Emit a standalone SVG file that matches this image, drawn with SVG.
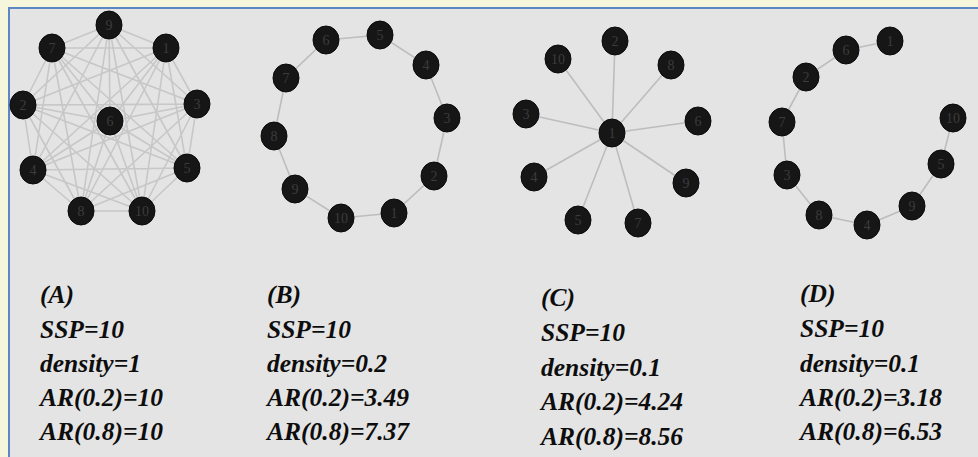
<svg xmlns="http://www.w3.org/2000/svg" width="978" height="457" viewBox="0 0 978 457">
<defs>
<style>
.bg{fill:#f6f6dc}
.panel{fill:#e4e4e4}
.frame{stroke:#5b87c5;stroke-width:2;fill:none}
.e{stroke:#bdbdbd;stroke-width:1.6;fill:none}
.ea{stroke:#c2c2c2;stroke-width:1.6;fill:none;opacity:0.85}
.n ellipse{fill:#161616;stroke:#0a0a0a;stroke-width:1}
.n text{font-family:"Liberation Serif",serif;font-size:14px;fill:#3c3c3c;text-anchor:middle;dominant-baseline:central}
.cap{font-family:"Liberation Serif",serif;font-size:25.5px;font-weight:bold;font-style:italic;fill:#0d0d0d}
</style>
</defs>
<rect class="bg" x="0" y="0" width="978" height="457"/>
<rect class="panel" x="8" y="7" width="970" height="450"/>
<path class="frame" d="M9 457 V8 H978"/>

<g id="connectors">
<g id="edges-A">
<path class="ea" d="M109 25 L166 48 M109 25 L52 48 M109 25 L23 105 M109 25 L197 104 M109 25 L110 121 M109 25 L33 170 M109 25 L187 168 M109 25 L81 211 M109 25 L142 211
M166 48 L52 48 M166 48 L23 105 M166 48 L197 104 M166 48 L110 121 M166 48 L33 170 M166 48 L187 168 M166 48 L81 211 M166 48 L142 211
M52 48 L23 105 M52 48 L197 104 M52 48 L110 121 M52 48 L33 170 M52 48 L187 168 M52 48 L81 211 M52 48 L142 211
M23 105 L197 104 M23 105 L110 121 M23 105 L33 170 M23 105 L187 168 M23 105 L81 211 M23 105 L142 211
M197 104 L110 121 M197 104 L33 170 M197 104 L187 168 M197 104 L81 211 M197 104 L142 211
M110 121 L33 170 M110 121 L187 168 M110 121 L81 211 M110 121 L142 211
M33 170 L187 168 M33 170 L81 211 M33 170 L142 211
M187 168 L81 211 M187 168 L142 211
M81 211 L142 211"/>
</g>
<g id="edges-B">
<path class="e" d="M326 40 L380 35 L426 65 L447 118 L434 176 L394 213 L341 218 L295 189 L274 136 L286 78 Z"/>
</g>
<g id="edges-C">
<path class="e" d="M612 133 L615 41 M612 133 L558 59 M612 133 L671 65 M612 133 L526 114 M612 133 L698 121 M612 133 L534 177 M612 133 L686 183 M612 133 L578 220 M612 133 L638 223"/>
</g>
<g id="edges-D">
<path class="e" d="M890 41 L846 50 L806 77 L782 122 L787 175 L819 215 L867 225 L912 206 L941 164 L953 118"/>
</g>
</g>

<g id="graph-A">
<g id="A9" class="n"><ellipse cx="109" cy="25" rx="13" ry="14"/><text x="109" y="25">9</text></g>
<g id="A1" class="n"><ellipse cx="166" cy="48" rx="13" ry="14"/><text x="166" y="48">1</text></g>
<g id="A7" class="n"><ellipse cx="52" cy="48" rx="13" ry="14"/><text x="52" y="48">7</text></g>
<g id="A2" class="n"><ellipse cx="23" cy="105" rx="13" ry="14"/><text x="23" y="105">2</text></g>
<g id="A3" class="n"><ellipse cx="197" cy="104" rx="13" ry="14"/><text x="197" y="104">3</text></g>
<g id="A6" class="n"><ellipse cx="110" cy="121" rx="13" ry="14"/><text x="110" y="121">6</text></g>
<g id="A4" class="n"><ellipse cx="33" cy="170" rx="13" ry="14"/><text x="33" y="170">4</text></g>
<g id="A5" class="n"><ellipse cx="187" cy="168" rx="13" ry="14"/><text x="187" y="168">5</text></g>
<g id="A8" class="n"><ellipse cx="81" cy="211" rx="13" ry="14"/><text x="81" y="211">8</text></g>
<g id="A10" class="n"><ellipse cx="142" cy="211" rx="13" ry="14"/><text x="142" y="211">10</text></g>
</g>

<g id="graph-B">
<g id="B6" class="n"><ellipse cx="326" cy="40" rx="13" ry="14"/><text x="326" y="40">6</text></g>
<g id="B5" class="n"><ellipse cx="380" cy="35" rx="13" ry="14"/><text x="380" y="35">5</text></g>
<g id="B4" class="n"><ellipse cx="426" cy="65" rx="13" ry="14"/><text x="426" y="65">4</text></g>
<g id="B7" class="n"><ellipse cx="286" cy="78" rx="13" ry="14"/><text x="286" y="78">7</text></g>
<g id="B3" class="n"><ellipse cx="447" cy="118" rx="13" ry="14"/><text x="447" y="118">3</text></g>
<g id="B8" class="n"><ellipse cx="274" cy="136" rx="13" ry="14"/><text x="274" y="136">8</text></g>
<g id="B2" class="n"><ellipse cx="434" cy="176" rx="13" ry="14"/><text x="434" y="176">2</text></g>
<g id="B9" class="n"><ellipse cx="295" cy="189" rx="13" ry="14"/><text x="295" y="189">9</text></g>
<g id="B10" class="n"><ellipse cx="341" cy="218" rx="13" ry="14"/><text x="341" y="218">10</text></g>
<g id="B1" class="n"><ellipse cx="394" cy="213" rx="13" ry="14"/><text x="394" y="213">1</text></g>
</g>

<g id="graph-C">
<g id="C2" class="n"><ellipse cx="615" cy="41" rx="13" ry="14"/><text x="615" y="41">2</text></g>
<g id="C10" class="n"><ellipse cx="558" cy="59" rx="13" ry="14"/><text x="558" y="59">10</text></g>
<g id="C8" class="n"><ellipse cx="671" cy="65" rx="13" ry="14"/><text x="671" y="65">8</text></g>
<g id="C3" class="n"><ellipse cx="526" cy="114" rx="13" ry="14"/><text x="526" y="114">3</text></g>
<g id="C1" class="n"><ellipse cx="612" cy="133" rx="13" ry="14"/><text x="612" y="133">1</text></g>
<g id="C6" class="n"><ellipse cx="698" cy="121" rx="13" ry="14"/><text x="698" y="121">6</text></g>
<g id="C4" class="n"><ellipse cx="534" cy="177" rx="13" ry="14"/><text x="534" y="177">4</text></g>
<g id="C9" class="n"><ellipse cx="686" cy="183" rx="13" ry="14"/><text x="686" y="183">9</text></g>
<g id="C5" class="n"><ellipse cx="578" cy="220" rx="13" ry="14"/><text x="578" y="220">5</text></g>
<g id="C7" class="n"><ellipse cx="638" cy="223" rx="13" ry="14"/><text x="638" y="223">7</text></g>
</g>

<g id="graph-D">
<g id="D1" class="n"><ellipse cx="890" cy="41" rx="13" ry="14"/><text x="890" y="41">1</text></g>
<g id="D6" class="n"><ellipse cx="846" cy="50" rx="13" ry="14"/><text x="846" y="50">6</text></g>
<g id="D2" class="n"><ellipse cx="806" cy="77" rx="13" ry="14"/><text x="806" y="77">2</text></g>
<g id="D7" class="n"><ellipse cx="782" cy="122" rx="13" ry="14"/><text x="782" y="122">7</text></g>
<g id="D10" class="n"><ellipse cx="953" cy="118" rx="13" ry="14"/><text x="953" y="118">10</text></g>
<g id="D3" class="n"><ellipse cx="787" cy="175" rx="13" ry="14"/><text x="787" y="175">3</text></g>
<g id="D5" class="n"><ellipse cx="941" cy="164" rx="13" ry="14"/><text x="941" y="164">5</text></g>
<g id="D9" class="n"><ellipse cx="912" cy="206" rx="13" ry="14"/><text x="912" y="206">9</text></g>
<g id="D8" class="n"><ellipse cx="819" cy="215" rx="13" ry="14"/><text x="819" y="215">8</text></g>
<g id="D4" class="n"><ellipse cx="867" cy="225" rx="13" ry="14"/><text x="867" y="225">4</text></g>
</g>

<g id="caption-A" class="cap">
<text x="40" y="303">(A)</text>
<text x="40" y="338">SSP=10</text>
<text x="40" y="372">density=1</text>
<text x="40" y="406">AR(0.2)=10</text>
<text x="40" y="440">AR(0.8)=10</text>
</g>
<g id="caption-B" class="cap">
<text x="267" y="303">(B)</text>
<text x="267" y="338">SSP=10</text>
<text x="267" y="372">density=0.2</text>
<text x="267" y="406">AR(0.2)=3.49</text>
<text x="267" y="440">AR(0.8)=7.37</text>
</g>
<g id="caption-C" class="cap">
<text x="541" y="306">(C)</text>
<text x="541" y="341">SSP=10</text>
<text x="541" y="376">density=0.1</text>
<text x="541" y="410">AR(0.2)=4.24</text>
<text x="541" y="445">AR(0.8)=8.56</text>
</g>
<g id="caption-D" class="cap">
<text x="800" y="302">(D)</text>
<text x="800" y="337">SSP=10</text>
<text x="800" y="372">density=0.1</text>
<text x="800" y="406">AR(0.2)=3.18</text>
<text x="800" y="440">AR(0.8)=6.53</text>
</g>
</svg>
